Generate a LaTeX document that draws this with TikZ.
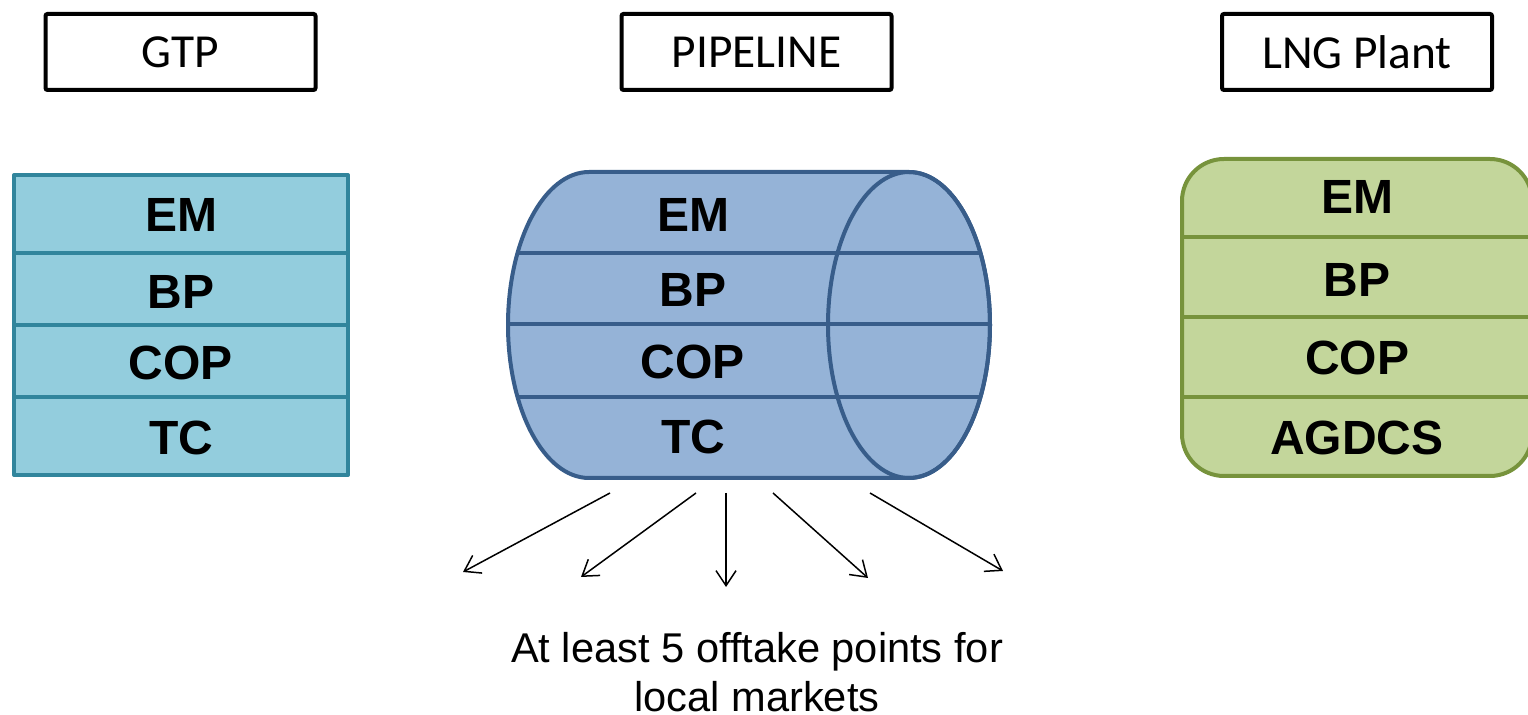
\documentclass[tikz,border=0pt]{standalone}
\usepackage{fontspec}
\setmainfont{Liberation Sans}
\newfontfamily\carlito{Carlito}
\usetikzlibrary{arrows.meta}
\definecolor{gtpfill}{HTML}{93CDDD}
\definecolor{gtpline}{HTML}{31859C}
\definecolor{pipefill}{HTML}{95B3D7}
\definecolor{pipeln}{HTML}{385D8A}
\definecolor{lngfill}{HTML}{C3D69B}
\definecolor{lngline}{HTML}{77933C}
\begin{document}
\begin{tikzpicture}[x=0.5pt,y=-0.5pt,
  titlebox/.style={draw=black, line width=2pt, rounded corners=1pt, minimum width=135pt, minimum height=38pt, inner sep=0pt, font=\carlito\fontsize{23.7}{27}\selectfont},
  layer/.style={font=\bfseries\fontsize{24}{28}\selectfont, inner sep=0pt},
  offtake/.style={-{Straight Barb[length=7.5pt,width=10pt]}, line width=0.75pt}]
\useasboundingbox (0,0) rectangle (1528,715);

% title boxes
\node[titlebox] (tgtp) at (180.5,52) {GTP};
\node[titlebox] (tpipe) at (756.5,52) {PIPELINE};
\node[titlebox] (tlng) at (1357,52) {LNG Plant};

% GTP stack
\draw[fill=gtpfill, draw=gtpline, line width=2pt, line join=round] (14,175) rectangle (348,475);
\foreach \yy in {253,325,397} \draw[gtpline, line width=2pt] (14,\yy) -- (348,\yy);
\node[layer] (gem) at (181,215) {EM};
\node[layer] (gbp) at (181,292) {BP};
\node[layer] (gcop) at (181,363) {COP};
\node[layer] (gtc) at (181,438) {TC};

% pipeline cylinder
\def\cylpath{(589,172) -- (909,172) arc[start angle=-90, end angle=90, x radius=81, y radius=153] -- (589,478) arc[start angle=90, end angle=270, x radius=81, y radius=153] -- cycle}
\fill[pipefill] \cylpath;
\begin{scope}
  \clip \cylpath;
  \foreach \yy in {253,324,397} \draw[pipeln, line width=2pt] (500,\yy) -- (1000,\yy);
\end{scope}
\draw[pipeln, line width=2pt] (909,325) ellipse [x radius=81, y radius=153];
\draw[pipeln, line width=2pt] \cylpath;
\node[layer] (pem) at (693,215) {EM};
\node[layer] (pbp) at (693,290) {BP};
\node[layer] (pcop) at (693,362) {COP};
\node[layer] (ptc) at (693,437) {TC};

% LNG stack
\draw[fill=lngfill, draw=lngline, line width=2pt, rounded corners=21pt] (1182,159) rectangle (1532,476);
\foreach \yy in {237,317,397} \draw[lngline, line width=2pt] (1182,\yy) -- (1532,\yy);
\node[layer] (lem) at (1357,197) {EM};
\node[layer] (lbp) at (1357,280) {BP};
\node[layer] (lcop) at (1357,358) {COP};
\node[layer] (lag) at (1357,438) {AGDCS};

% offtake arrows
\coordinate (s1) at (610,493); \coordinate (e1) at (463,572);
\coordinate (s2) at (696,493); \coordinate (e2) at (581,577);
\coordinate (s3) at (726,493); \coordinate (e3) at (726,587);
\coordinate (s4) at (773,493); \coordinate (e4) at (868,578);
\coordinate (s5) at (870,493); \coordinate (e5) at (1003,571);
\foreach \i in {1,...,5} \draw[offtake] (s\i) -- (e\i);

\node[anchor=north, inner sep=0pt, align=center, font=\fontsize{20.8}{24.6}\selectfont] (note) at (757,632) {At least 5 offtake points for\\local markets};
\end{tikzpicture}
\end{document}
